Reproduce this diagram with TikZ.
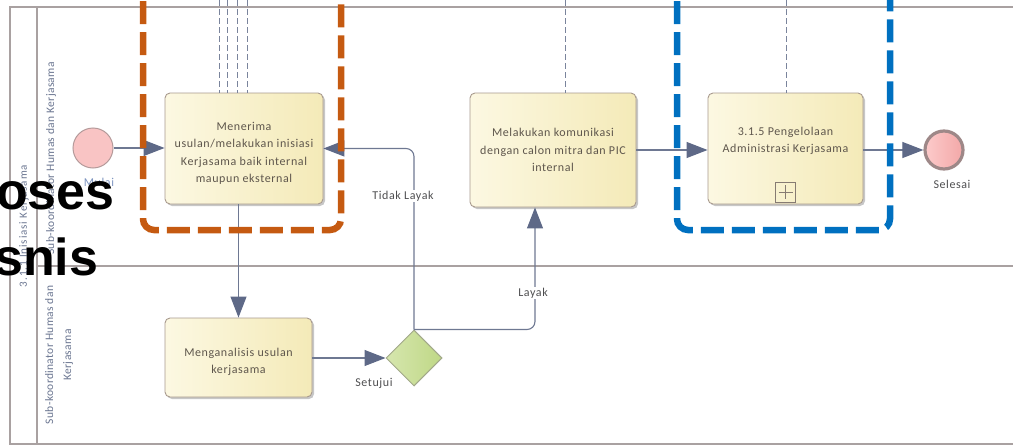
\documentclass[tikz,border=0pt]{standalone}
\usepackage{fontspec}
\setmainfont{Carlito}
\newfontfamily\eafont[LetterSpace=5]{Carlito}
\newfontfamily\lanefont[LetterSpace=3]{Carlito}
\newfontfamily\poolfont[LetterSpace=8]{Carlito}
\newfontfamily\bigfont{Liberation Sans}
\usetikzlibrary{arrows.meta,shapes.geometric,shadows,calc}
\definecolor{lanecol}{HTML}{A9A1A1}
\definecolor{flowcol}{HTML}{6E7892}
\definecolor{arrowcol}{HTML}{5E6987}
\definecolor{taskborder}{HTML}{A89A8E}
\definecolor{taskL}{HTML}{FCF8E2}
\definecolor{taskR}{HTML}{F4EAB8}
\definecolor{tasktext}{HTML}{5E564C}
\definecolor{labtext}{HTML}{4E4E50}
\definecolor{lanetext}{HTML}{6A7590}
\definecolor{mulaitext}{HTML}{7E95C0}
\definecolor{startfill}{HTML}{F9C4C4}
\definecolor{startdraw}{HTML}{B49A9A}
\definecolor{endL}{HTML}{FCCACA}
\definecolor{endR}{HTML}{F3A8A8}
\definecolor{enddraw}{HTML}{9E8888}
\definecolor{gwL}{HTML}{D6E6AE}
\definecolor{gwR}{HTML}{BFD886}
\definecolor{gwdraw}{HTML}{A2A88A}
\definecolor{dashcol}{HTML}{7A849C}
\definecolor{orangebox}{HTML}{C55A11}
\definecolor{bluebox}{HTML}{0070C0}
\begin{document}
\begin{tikzpicture}[x=1pt,y=-1pt,
  lane/.style={draw=lanecol,line width=1.6pt},
  task/.style={rectangle,rounded corners=5pt,draw=taskborder,line width=0.9pt,
    left color=taskL,right color=taskR,text=tasktext,align=center,
    font=\eafont\fontsize{12}{17.5}\selectfont,inner sep=0pt,
    drop shadow={shadow xshift=2pt,shadow yshift=-2pt,opacity=0.22,fill=black}},
  flow/.style={draw=flowcol,line width=1.1pt,-{Triangle[length=21pt,width=16pt,fill=arrowcol,color=arrowcol]}},
  flowlabel/.style={fill=white,text=labtext,font=\eafont\fontsize{12}{14}\selectfont,inner sep=1pt},
  evlabel/.style={font=\eafont\fontsize{12}{14}\selectfont,inner sep=0pt},
  lanelabel/.style={text=lanetext,font=\lanefont\fontsize{11.5}{18}\selectfont,rotate=90,inner sep=0pt,align=center},
  poollabel/.style={text=lanetext,font=\poolfont\fontsize{11}{18}\selectfont,rotate=90,inner sep=0pt},
  dashline/.style={draw=dashcol,line width=0.8pt,dash pattern=on 6pt off 3pt},
  groupbox/.style={line width=6.5pt,rounded corners=11pt,dash pattern=on 23pt off 8pt},
  bigtext/.style={font=\bigfont\bfseries\fontsize{52}{52}\selectfont,inner sep=0pt,text=black}]
\useasboundingbox (0,0) rectangle (1013,447);

% pool and lanes
\draw[lane] (1020,7) -- (10,7) -- (10,444) -- (1020,444);
\draw[lane] (37,7) -- (37,444);
\draw[lane] (37,266) -- (1020,266);

\node[lanelabel,anchor=east] (lab1) at (51,62) {Sub-koordinator Humas dan Kerjasama};
\node[lanelabel] (lab2) at (59,355) {Sub-koordinator Humas dan\\Kerjasama};
\node[poollabel] (pool) at (24,226) {3.1.1 Inisiasi Kerjasama};

% dashed lines from above
\coordinate (d1) at (219,0);
\coordinate (d2) at (227,0);
\coordinate (d3) at (237,0);
\coordinate (d4) at (247,0);
\coordinate (d5) at (565,0);
\coordinate (d6) at (786,0);

% events, tasks, gateway
\node[circle,draw=startdraw,line width=1pt,fill=startfill,minimum size=40pt,inner sep=0pt] (mulai) at (93,148) {};
\node[evlabel,text=mulaitext] (mulaiL) at (99,182) {Mulai};

\node[task,minimum width=158pt,minimum height=111pt] (t1) at (244,148.5)
  {\mbox{}\\Menerima\\usulan/melakukan inisiasi\\Kerjasama baik internal\\maupun eksternal};
\node[task,minimum width=147pt,minimum height=79pt] (t2) at (238.5,357.5)
  {\mbox{}\\Menganalisis usulan\\kerjasama};
\node[diamond,aspect=1,draw=gwdraw,line width=1pt,left color=gwL,right color=gwR,
  minimum width=56pt,minimum height=56pt,inner sep=0pt] (gw) at (414,358) {};
\node[task,minimum width=166pt,minimum height=114pt] (t3) at (553,150)
  {Melakukan komunikasi\\dengan calon mitra dan PIC\\internal};
\node[task,minimum width=155pt,minimum height=111pt] (t4) at (785.5,148.5)
  {3.1.5 Pengelolaan\\Administrasi Kerjasama\\\mbox{}};
\node[circle,draw=enddraw,line width=3.2pt,left color=endL,right color=endR,minimum size=38pt,inner sep=0pt] (selesai) at (944,150) {};
\node[evlabel,text=labtext] (selesaiL) at (952,184) {Selesai};

% sub-process marker
\coordinate (mk) at ([yshift=12pt]t4.south);
\draw[draw=taskborder!80!black,line width=0.9pt] ($(mk)+(-10,-10)$) rectangle ($(mk)+(10,10)$);
\draw[draw=taskborder!80!black,line width=0.8pt] ($(mk)+(-7,0)$) -- ($(mk)+(7,0)$) ($(mk)+(0,-7)$) -- ($(mk)+(0,7)$);

% dashed association lines
\draw[dashline] (d1) -- (d1 |- t1.north);
\draw[dashline] (d2) -- (d2 |- t1.north);
\draw[dashline] (d3) -- (d3 |- t1.north);
\draw[dashline] (d4) -- (d4 |- t1.north);
\draw[dashline] (d5) -- (d5 |- t3.north);
\draw[dashline] (d6) -- (d6 |- t4.north);

% sequence flows
\draw[flow] (mulai.east) -- (mulai.east -| t1.west);
\draw[flow] (t1.south -| t2.north) -- (t2.north);
\draw[flow] (t2.east |- gw.west) -- (gw.west);
\node[flowlabel,fill=none] (setL) at (374,383) {Setujui};
\draw[flow,rounded corners=8pt] (gw.north) |- (t1.east);
\node[flowlabel] (tlL) at (403,196) {Tidak Layak};
\coordinate (lay) at ([xshift=-18pt]t3.south);
\draw[flow,rounded corners=8pt] (gw.north) -| (lay);
\node[flowlabel] (layL) at (533,293) {Layak};
\draw[flow] (t3.east |- 0,150) -- (t4.west |- 0,150);
\draw[flow] (t4.east |- selesai.west) -- (selesai.west);

% group boxes
\draw[groupbox,draw=orangebox] (143,-30) -- (143,230) -- (341,230) -- (341,-30);
\draw[groupbox,draw=bluebox] (677,-30) -- (677,230) -- (890,230) -- (890,-30);

% overlapping title text
\node[bigtext,anchor=base west] (ps1) at (-4,209) {oses};
\node[bigtext,anchor=base west] (ps2) at (-6,275) {snis};
\end{tikzpicture}
\end{document}
